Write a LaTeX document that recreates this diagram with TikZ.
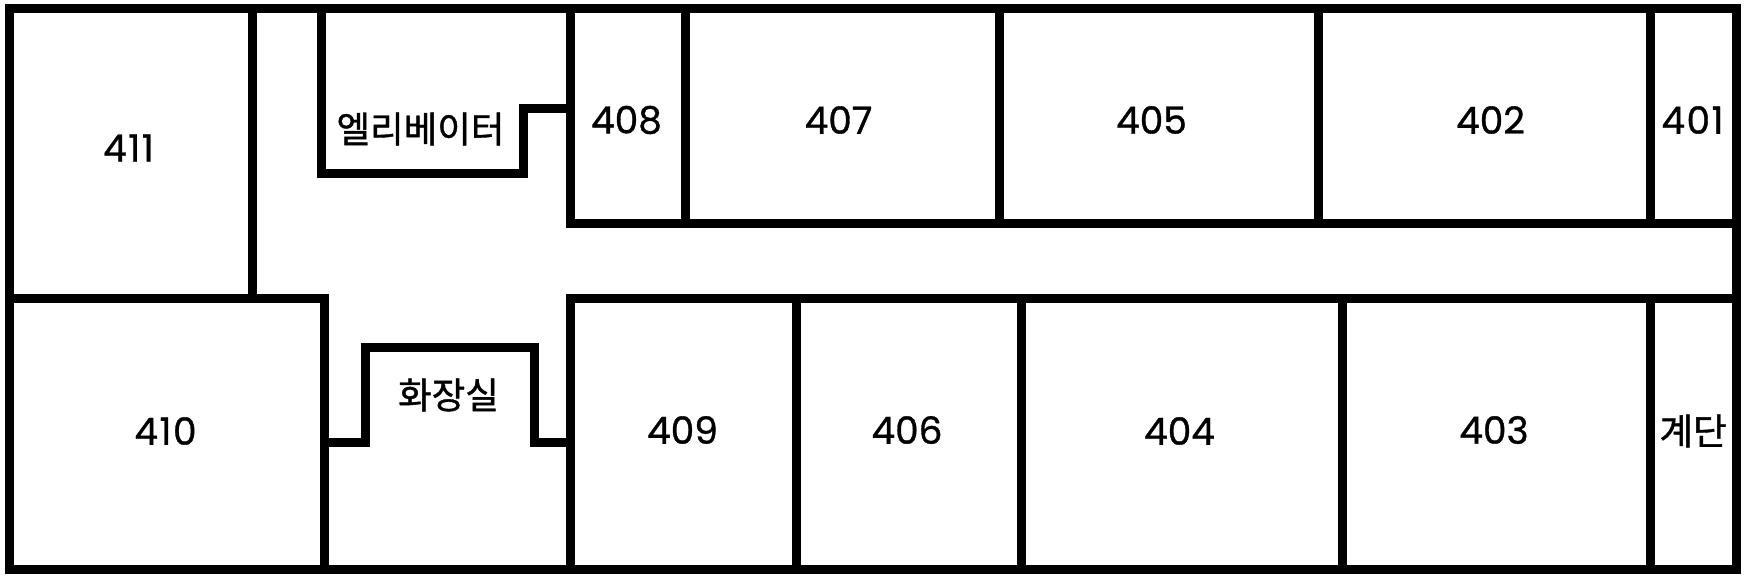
\documentclass[tikz,border=0pt]{standalone}
\usepackage{fontspec}
\setmainfont[FakeBold=0.9]{Poppins}
\newfontfamily\krfont[FakeBold=1.1]{Noto Sans CJK KR}
\newfontfamily\onefont[FakeBold=0.9,LetterSpace=4]{Poppins}
\tikzset{
  wall/.style={line width=9pt, line cap=rect, miter limit=10, black},
  room/.style={inner sep=0pt, font=\fontsize{37.5}{37.5}\selectfont},
  roomone/.style={inner sep=0pt, font=\onefont\fontsize{37.5}{37.5}\selectfont},
  kr/.style={inner sep=0pt, font=\krfont\fontsize{36.5}{36.5}\selectfont},
}
\begin{document}
\begin{tikzpicture}[x=1pt,y=-1pt]
\useasboundingbox (0,0) rectangle (1748,580);
\fill[white] (0,0) rectangle (1748,580);
% outer
\draw[wall] (9,8.5) rectangle (1736.5,569.5);
% horizontal corridors
\draw[wall] (9,298.5) -- (324.5,298.5) -- (324.5,569.5);
\draw[wall] (570,569.5) -- (570,298.5) -- (1736.5,298.5);
\draw[wall] (570,8.5) -- (570,223.5) -- (1736.5,223.5);
% 411 wall
\draw[wall] (252.5,8.5) -- (252.5,298.5);
% elevator
\draw[wall] (321.5,8.5) -- (321.5,173.5) -- (523.5,173.5) -- (523.5,109) -- (570,109);
% toilet
\draw[wall] (324.5,442.5) -- (365.5,442.5) -- (365.5,347.5) -- (534,347.5) -- (534,442.5) -- (570,442.5);
% upper partitions
\foreach \x in {685.5,999,1318,1650.5} \draw[wall] (\x,8.5) -- (\x,223.5);
% lower partitions
\foreach \x in {796,1021,1342,1650.5} \draw[wall] (\x,298.5) -- (\x,569.5);
% labels
\node[roomone] (r411) at (128.5,148) {411};
\node[kr] (elev) at (420.5,129) {엘리베이터};
\node[room] (r408) at (626.5,120) {408};
\node[room] (r407) at (838.5,120) {407};
\node[room] (r405) at (1151.5,120) {405};
\node[room] (r402) at (1490.5,120) {402};
\node[roomone] (r401) at (1692.5,120) {401};
\node[roomone] (r410) at (165.5,431) {410};
\node[kr] (wc) at (448.5,395) {화장실};
\node[room] (r409) at (682.5,430) {409};
\node[room] (r406) at (907,430) {406};
\node[room] (r404) at (1179.5,431) {404};
\node[room] (r403) at (1494,430) {403};
\node[kr] (stairs) at (1693,431) {계단};
\end{tikzpicture}
\end{document}
